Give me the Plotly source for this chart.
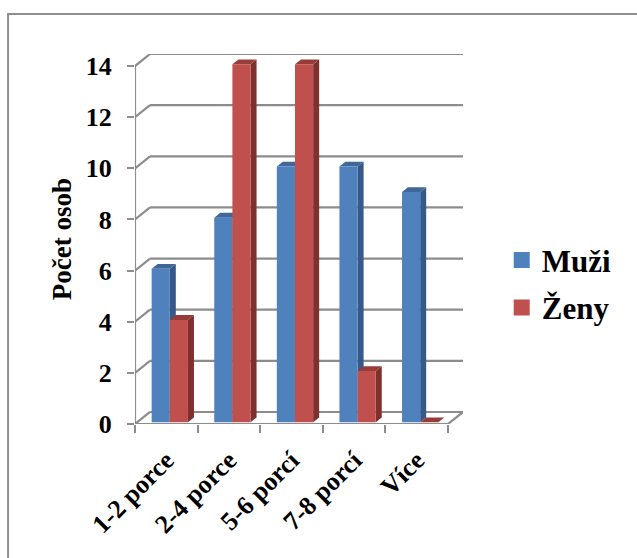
import plotly.graph_objects as go

# --- data -------------------------------------------------------------
categories = ["1-2 porce", "2-4 porce", "5-6 porcí", "7-8 porcí", "Více"]
muzi = [6, 8, 10, 10, 9]
zeny = [4, 14, 14, 2, 0]
y_ticks = [0, 2, 4, 6, 8, 10, 12, 14]
y_title = "Počet osob"

# --- pseudo-3D geometry (data units) ------------------------------------
DX, DY = 0.24, 0.47        # depth of the chart box (back wall offset)
F0, F1 = 0.15, 0.55        # bar front / back planes as a fraction of depth
BAR_W = 0.29
GROUP_LEFT = -0.27
GRID = "#8C8C8C"
FONT = "Liberation Serif"

series = [
    dict(name="Muži", values=muzi, front="#4F81BD", side="#36598A",
         top="#3F679A", offset=GROUP_LEFT),
    dict(name="Ženy", values=zeny, front="#C0504D", side="#7F2F2D",
         top="#983C39", offset=GROUP_LEFT + BAR_W),
]

n = len(categories)
x_lo, x_hi = -0.5, n - 0.5
shapes = []

def line(x0, y0, x1, y1, color=GRID, width=2.2):
    shapes.append(dict(type="line", xref="x", yref="y", x0=x0, y0=y0,
                       x1=x1, y1=y1, layer="below",
                       line=dict(color=color, width=width)))

# back wall gridlines with their diagonal stubs on the side wall
for v in y_ticks:
    line(x_lo, v, x_lo + DX, v + DY)
    line(x_lo + DX, v + DY, x_hi + DX, v + DY)
# floor: front edge and right diagonal, value axis line
line(x_lo, 0, x_hi, 0)
line(x_hi, 0, x_hi + DX, DY)
line(x_lo, 0, x_lo, y_ticks[-1])

# side and top faces of every bar
ddx, ddy = (F1 - F0) * DX, (F1 - F0) * DY
base = F0 * DY
for s in series:
    for i, v in enumerate(s["values"]):
        xl = i + F0 * DX + s["offset"]
        xr = xl + BAR_W
        side = (f"M{xr},{base} L{xr + ddx},{base + ddy} "
                f"L{xr + ddx},{base + ddy + v} L{xr},{base + v} Z")
        top = (f"M{xl},{base + v} L{xr},{base + v} "
               f"L{xr + ddx},{base + v + ddy} L{xl + ddx},{base + v + ddy} Z")
        for path, col in ((side, s["side"]), (top, s["top"])):
            shapes.append(dict(type="path", xref="x", yref="y", path=path,
                               fillcolor=col, line=dict(width=0),
                               layer="below"))

# outer chart border
shapes.append(dict(type="rect", xref="paper", yref="paper",
                   x0=-0.387, y0=-0.40, x1=1.58, y1=1.108,
                   line=dict(color="#8F8F8F", width=2), layer="below"))

fig = go.Figure()
for s in series:
    fig.add_trace(go.Bar(
        x=[i + F0 * DX for i in range(n)], y=s["values"],
        base=[base] * n, width=BAR_W, offset=s["offset"],
        marker=dict(color=s["front"], line=dict(width=0)),
        name=s["name"], showlegend=False))
for s in series:
    fig.add_trace(go.Scatter(
        x=[None], y=[None], mode="markers", name=s["name"],
        legendgroup=s["name"],
        marker=dict(symbol="square", size=16, color=s["front"])))

fig.update_layout(
    width=637, height=558,
    margin=dict(l=135, r=174, t=54, b=134),
    paper_bgcolor="white", plot_bgcolor="white",
    shapes=shapes,
    showlegend=True,
    legend=dict(x=1.118, y=0.515, xanchor="left", yanchor="top",
                font=dict(family=FONT, size=31, color="black", weight="bold"),
                tracegroupgap=4, itemsizing="trace"),
    xaxis=dict(range=[x_lo, x_hi + DX], tickmode="array",
               tickvals=list(range(n)), ticktext=categories,
               tickangle=-45, ticks="", showgrid=False, zeroline=False,
               showline=False, ticklabelstandoff=15,
               tickfont=dict(family=FONT, size=26, color="black",
                             weight="bold"),
               minor=dict(tickvals=[i - 0.5 for i in range(n + 1)],
                          ticks="outside", ticklen=8, tickwidth=2,
                          tickcolor=GRID, showgrid=False)),
    yaxis=dict(range=[0, y_ticks[-1] + DY], tickmode="array",
               tickvals=y_ticks, ticks="outside", ticklen=7, tickwidth=2,
               tickcolor=GRID, showgrid=False, zeroline=False,
               showline=False, ticklabelstandoff=10,
               tickfont=dict(family=FONT, size=26, color="black",
                             weight="bold"),
               title=dict(text=y_title, standoff=6,
                          font=dict(family=FONT, size=27, color="black",
                                    weight="bold"))),
)

fig.write_html("out.html")
